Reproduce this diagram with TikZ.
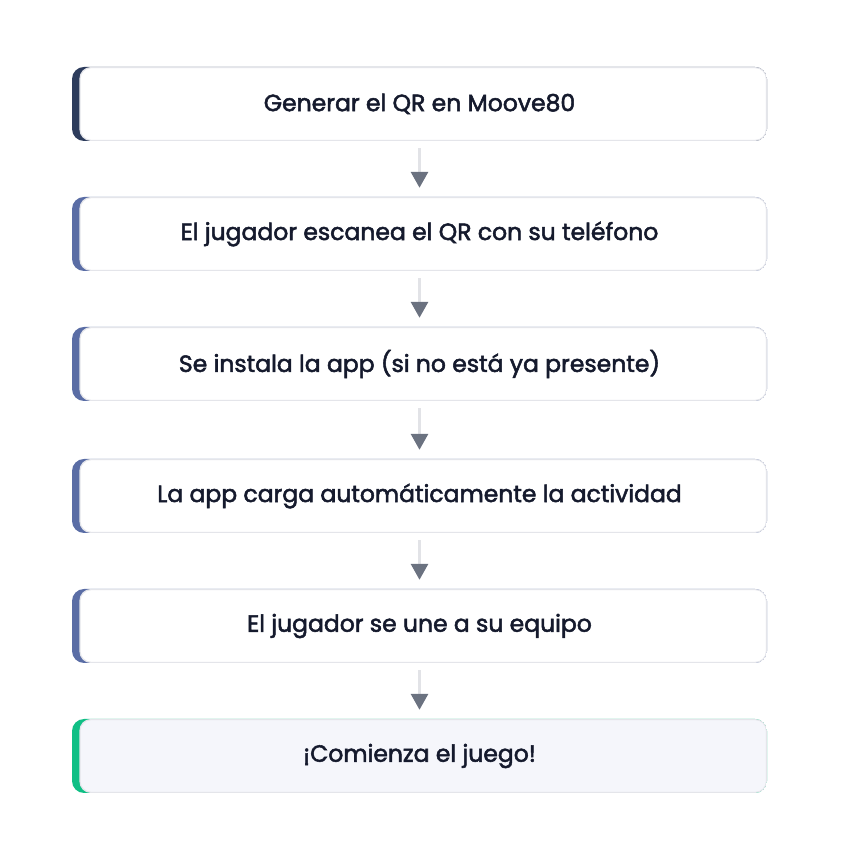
\documentclass[tikz,border=0pt]{standalone}
\usepackage{fontspec}
\setmainfont{Poppins}[FakeBold=2.2]
\usetikzlibrary{arrows.meta}
\definecolor{navy}{HTML}{2D3C5C}
\definecolor{slate}{HTML}{5A6DA5}
\definecolor{mint}{HTML}{10BF85}
\definecolor{rim}{HTML}{E4E5EA}
\definecolor{pale}{HTML}{F5F6FB}
\definecolor{shaft}{HTML}{E2E3E7}
\definecolor{tip}{HTML}{6B7280}
\definecolor{ink}{HTML}{151A2D}
\tikzset{
  stepbox/.style={rectangle, minimum width=695pt, minimum height=74pt, inner sep=0pt,
    font=\fontsize{23.5}{28}\selectfont, text=ink,
    path picture={
      \fill[#1] (path picture bounding box.south west) rectangle (path picture bounding box.north east);
      \fill[white, draw=rim, line width=1.2pt, rounded corners=11pt]
        ([xshift=8pt,yshift=0.6pt]path picture bounding box.south west) rectangle
        ([xshift=-0.6pt,yshift=-0.6pt]path picture bounding box.north east);
    }},
  lastbox/.style={stepbox=#1,
    path picture={
      \fill[#1] (path picture bounding box.south west) rectangle (path picture bounding box.north east);
      \fill[pale, draw=rim, line width=1.2pt, rounded corners=11pt]
        ([xshift=8pt,yshift=0.6pt]path picture bounding box.south west) rectangle
        ([xshift=-0.6pt,yshift=-0.6pt]path picture bounding box.north east);
    }},
  flow/.style={shaft, line width=3pt, shorten <=7pt, shorten >=9pt,
    -{Triangle[color=tip, width=17pt, length=16pt]}}
}
\begin{document}
\begin{tikzpicture}[x=1pt,y=1pt,rounded corners=12pt]
  \useasboundingbox (0,0) rectangle (840,858);
  % steps
  \node[stepbox=navy] (s1) at (419.5,754) {Generar el QR en Moove80};
  \node[stepbox=slate] (s2) at (419.5,624) {El jugador escanea el QR con su teléfono};
  \node[stepbox=slate] (s3) at (419.5,494) {Se instala la app (si no está ya presente)};
  \node[stepbox=slate] (s4) at (419.5,362) {La app carga automáticamente la actividad};
  \node[stepbox=slate] (s5) at (419.5,232) {El jugador se une a su equipo};
  \node[lastbox=mint] (s6) at (419.5,102) {¡Comienza el juego!};
  % arrows
  \draw[flow,rounded corners=0pt] (s1.south) -- (s2.north);
  \draw[flow,rounded corners=0pt] (s2.south) -- (s3.north);
  \draw[flow,rounded corners=0pt] (s3.south) -- (s4.north);
  \draw[flow,rounded corners=0pt] (s4.south) -- (s5.north);
  \draw[flow,rounded corners=0pt] (s5.south) -- (s6.north);
\end{tikzpicture}
\end{document}
